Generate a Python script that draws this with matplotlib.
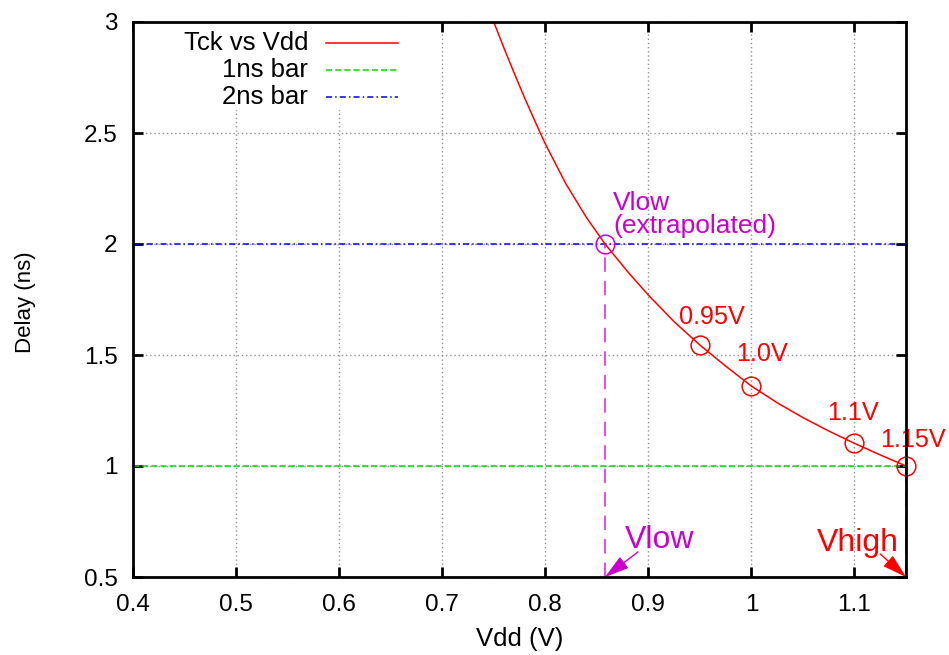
import matplotlib
matplotlib.use("Agg")
import matplotlib.pyplot as plt
from matplotlib.patches import Rectangle

plt.rcParams['font.family'] = ['Liberation Sans', 'DejaVu Sans']

# Curve
vdd = [0.750, 0.760, 0.770, 0.780, 0.790, 0.800, 0.820, 0.840, 0.858, 0.880,
       0.900, 0.925, 0.950, 0.975, 1.000, 1.025, 1.050, 1.075, 1.100, 1.125, 1.150]
tck = [3.000, 2.882, 2.768, 2.658, 2.553, 2.451, 2.271, 2.119, 2.000, 1.875,
       1.770, 1.650, 1.545, 1.450, 1.360, 1.285, 1.218, 1.158, 1.102, 1.050, 1.000]

# marked points
mark_v = [0.95, 1.0, 1.1, 1.15]
mark_t = [1.545, 1.360, 1.102, 1.000]
mark_labels = ["0.95V", "1.0V", "1.1V", "1.15V"]
vlow = 0.858
vlow_t = 2.0
vhigh = 1.15
bar_1ns = 1.0
bar_2ns = 2.0

xticks = [0.4, 0.5, 0.6, 0.7, 0.8, 0.9, 1.0, 1.1]
xticklabels = ["0.4", "0.5", "0.6", "0.7", "0.8", "0.9", "1", "1.1"]
yticks = [0.5, 1.0, 1.5, 2.0, 2.5, 3.0]
yticklabels = ["0.5", "1", "1.5", "2", "2.5", "3"]

RED = "#ff0000"
GREEN = "#00dd00"
BLUE = "#0000ff"
MAG = "#cc00cc"
MAG_L = "#e040e0"

fig = plt.figure(figsize=(9.49, 6.55), dpi=100)
ax = fig.add_axes([133/949, 1-577/655, (906-133)/949, (577-22)/655])
ax.set_xlim(0.4, 1.15)
ax.set_ylim(0.5, 3.0)

ax.grid(True, color="#909090", linestyle=(0, (1, 2)), linewidth=1.0, zorder=0)
ax.set_axisbelow(True)

# legend background box (hides grid)
ax.add_patch(Rectangle((0, 0.8414), 0.352, 0.1586, transform=ax.transAxes,
                       facecolor="white", edgecolor="none", zorder=1))

ax.axhline(bar_1ns, color=GREEN, linestyle=(0, (4, 2)), linewidth=1.1, zorder=2)
ax.axhline(bar_2ns, color=BLUE, linestyle=(0, (4, 2, 1, 2)), linewidth=1.1, zorder=2)
ax.plot(vdd, tck, color=RED, linewidth=1.1, zorder=3)

# vertical dashed markers
ax.plot([vlow, vlow], [0.5, vlow_t], color=MAG_L, linestyle=(0, (8, 5)), linewidth=1.3, zorder=2)
ax.plot([vhigh, vhigh], [0.5, bar_1ns], color=RED, linestyle=(0, (8, 5)), linewidth=1.3,
        zorder=2, clip_on=False)

# circles
ax.plot(mark_v, mark_t, linestyle="none", marker="o", markersize=13.5,
        markerfacecolor="none", markeredgecolor=RED, markeredgewidth=1.1, zorder=4, clip_on=False)
ax.plot([vlow], [vlow_t], linestyle="none", marker="o", markersize=13.5,
        markerfacecolor="none", markeredgecolor=MAG, markeredgewidth=1.1, zorder=4)

# labels for marks
lab_pos = [(0.9617, 1.640), (1.0103, 1.473), (1.0989, 1.207), (1.157, 1.087)]
for lab, (lx, ly) in zip(mark_labels, lab_pos):
    ax.text(lx, ly, lab, color=RED, fontsize=18.2, ha="center", va="baseline", clip_on=False)

ax.text(0.866, 2.153, "Vlow", color=MAG, fontsize=19, ha="left", va="baseline")
ax.text(0.866, 2.048, "(extrapolated)", color=MAG, fontsize=19, ha="left", va="baseline")

ax.text(0.8773, 0.6306, "Vlow", color=MAG, fontsize=23, ha="left", va="baseline")
ax.text(1.0633, 0.617, "Vhigh", color=RED, fontsize=23, ha="left", va="baseline")

ax.annotate("", xy=(vlow, 0.5), xytext=(0.890, 0.613),
            arrowprops=dict(arrowstyle="-|>,head_length=0.75,head_width=0.22", color=MAG, lw=1.0,
                            mutation_scale=20, shrinkA=0, shrinkB=0),
            annotation_clip=False, zorder=5)
ax.annotate("", xy=(vhigh, 0.5), xytext=(1.125, 0.604),
            arrowprops=dict(arrowstyle="-|>,head_length=0.75,head_width=0.22", color=RED, lw=1.0,
                            mutation_scale=20, shrinkA=0, shrinkB=0),
            annotation_clip=False, zorder=5)

# manual gnuplot-style legend
leg_rows = [("Tck vs Vdd", RED, "-"), ("1ns bar", GREEN, (0, (4, 2))), ("2ns bar", BLUE, (0, (4, 2, 1, 2)))]
leg_y = [0.9622, 0.9135, 0.8649]
for (lab, col, ls), yy in zip(leg_rows, leg_y):
    ax.text(0.2264, yy, lab, transform=ax.transAxes, ha="right", va="center",
            fontsize=18.5, zorder=6)
    ax.plot([0.2497, 0.3428], [yy, yy], transform=ax.transAxes, color=col,
            linestyle=ls, linewidth=1.1, zorder=6)

ax.set_xticks(xticks)
ax.set_xticklabels(xticklabels)
ax.set_yticks(yticks)
ax.set_yticklabels(yticklabels)
ax.tick_params(direction="in", length=7, width=2, top=True, right=True,
               labelsize=17.5, pad=11)
ax.tick_params(axis="x", pad=12.5)
for sp in ax.spines.values():
    sp.set_linewidth(2)
    sp.set_zorder(7)

ax.set_xlabel("Vdd (V)", fontsize=18.5)
ax.xaxis.label.set_va("baseline")
ax.xaxis.set_label_coords(0.5, -(646-577)/555)
ax.set_ylabel("Delay (ns)", fontsize=16)
ax.yaxis.set_label_coords(-(133-36)/773, 0.495)

fig.savefig("out.png", dpi=100)
